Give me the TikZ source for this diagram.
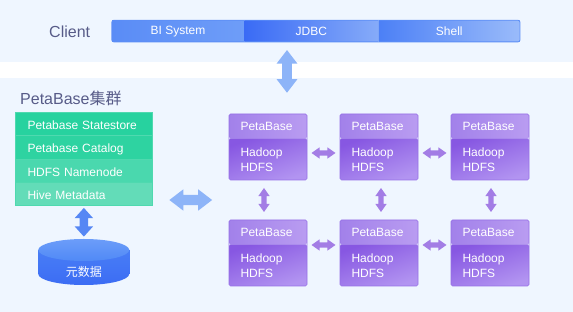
\documentclass[tikz,border=0pt]{standalone}
\usepackage{fontspec}
\setmainfont{Liberation Sans}
\newfontfamily\cjk{Noto Sans CJK SC}
\usepackage{xcolor}
\usepackage{tikz}
\definecolor{panelBlue}{HTML}{EFF6FF}
\definecolor{titleInk}{HTML}{575B88}
\definecolor{barLine}{HTML}{5C8EF6}
\definecolor{biL}{HTML}{5A8CF6}
\definecolor{biR}{HTML}{6E9DF8}
\definecolor{jdbcL}{HTML}{3A6BF5}
\definecolor{jdbcR}{HTML}{86ABF9}
\definecolor{shellL}{HTML}{4C80F6}
\definecolor{shellR}{HTML}{9ABBFA}
\definecolor{flowBlue}{HTML}{8DB4F8}
\definecolor{flowDeep}{HTML}{5687F4}
\definecolor{flowPurple}{HTML}{A37DE5}
\definecolor{stackLine}{HTML}{4FD9AF}
\definecolor{stackA}{HTML}{27D29F}
\definecolor{stackB}{HTML}{2ED3A1}
\definecolor{stackC}{HTML}{4AD8AE}
\definecolor{stackD}{HTML}{63DCB8}
\definecolor{nodeLine}{HTML}{9670E6}
\definecolor{nodeTopL}{HTML}{A281EA}
\definecolor{nodeTopR}{HTML}{B99CF1}
\definecolor{nodeLowT}{HTML}{8757E2}
\definecolor{nodeLowB}{HTML}{B294F1}
\definecolor{dbTop}{HTML}{5089F6}
\definecolor{dbTopLight}{HTML}{6C9DF9}
\definecolor{dbSide}{HTML}{4C83F6}
\definecolor{dbSideDark}{HTML}{3C6CF4}
\usetikzlibrary{positioning,shapes.multipart,shapes.arrows,calc}

% row strut for the component stack (text sits a little low in each row)
\newcommand{\rowstrut}{\rule[-2pt]{0pt}{15pt}}

\begin{document}
\begin{tikzpicture}[
  x=1pt, y=1pt,
  font=\fontsize{12}{15}\selectfont,
  panel/.style={fill=panelBlue, draw=none},
  title/.style={font=\fontsize{16}{19}\selectfont, text=titleInk, anchor=west, inner sep=0pt},
  client/.style={minimum height=21.2pt, inner sep=0pt, text=white},
  stackbox/.style={
    draw=stackLine,
    line width=0.6pt,
    rectangle split,
    rectangle split parts=4,
    rectangle split part fill={stackA,stackB,stackC,stackD},
    text width=113pt,
    inner xsep=12pt,
    inner ysep=3.75pt,
    align=left,
    text=white
  },
  nodebox/.style={
    draw=nodeLine,
    line width=0.6pt,
    rounded corners=1.5pt,
    minimum width=78pt,
    minimum height=66pt,
    text width=55pt,
    inner xsep=11.5pt,
    align=left,
    text=white,
    path picture={
      \shade[left color=nodeTopL, right color=nodeTopR]
        (path picture bounding box.north west) rectangle ([yshift=-24.5pt]path picture bounding box.north east);
      \shade[top color=nodeLowT, bottom color=nodeLowB, shading angle=20]
        ([yshift=-24.5pt]path picture bounding box.north west) rectangle (path picture bounding box.south east);
    }
  },
  dbbox/.style={
    minimum width=91pt,
    minimum height=46pt,
    inner sep=0pt,
    path picture={
      \shade[top color=dbSide, bottom color=dbSideDark]
        ([yshift=-11pt]path picture bounding box.north west) -- ([yshift=11pt]path picture bounding box.south west)
        arc[start angle=180, end angle=360, x radius=45.5pt, y radius=11pt]
        -- ([yshift=-11pt]path picture bounding box.north east) -- cycle;
      \shade[top color=dbTopLight, bottom color=dbTop]
        ([yshift=-11pt]path picture bounding box.north) ellipse [x radius=45.5pt, y radius=11pt];
    }
  },
  % double arrows: the shaft is set by the inner sep across the arrow
  flow/.style={double arrow, draw=none},
  flowwide/.style={flow, fill=flowBlue, minimum height=42.7pt, double arrow head extend=5.5pt, double arrow tip angle=75},
  flowdeep/.style={flow, fill=flowDeep, inner xsep=4pt, inner ysep=0pt, minimum height=28.7pt, double arrow head extend=5pt, double arrow tip angle=84, shape border rotate=90},
  flowpeer/.style={flow, fill=flowPurple, minimum height=24pt, double arrow head extend=3pt, double arrow tip angle=70},
  across/.style={inner xsep=0pt, inner ysep=#1},
  upright/.style={inner xsep=#1, inner ysep=0pt, shape border rotate=90}
]

% Backdrop
\fill[white] (0,0) rectangle (573,312);
\fill[panel] (0,250.3) rectangle (573,312);
\fill[panel] (0,0) rectangle (573,233.7);

% Client layer
\node[title] (clientlbl) at (49,280.7) {Client};
\node[client, minimum width=132pt, left color=biL, right color=biR] (bi) at (178,280.9) {BI System};
\node[client, minimum width=134pt, left color=jdbcL, right color=jdbcR, right=0pt of bi] (jdbc) {JDBC};
\node[client, minimum width=141pt, left color=shellL, right color=shellR, right=0pt of jdbc] (shell) {Shell};
\draw[barLine, line width=0.8pt, rounded corners=2pt] (bi.north west) rectangle (shell.south east);

\node[flowwide, upright=4.75pt] (access) at (287,240.6) {};

% Cluster
\node[title] (clusterlbl) at (20,213.5) {PetaBase{\cjk 集群}};

\node[stackbox] (stack) at (84,153)
{\rowstrut Petabase Statestore
\nodepart{two}\rowstrut Petabase Catalog
\nodepart{three}\rowstrut HDFS Namenode
\nodepart{four}\rowstrut Hive Metadata};

\node[dbbox, label={[font=\cjk\fontsize{12}{14}\selectfont, text=white, yshift=-10pt]center:元数据}] (meta) at (83.75,50) {};

\foreach \col/\x in {1/268,2/379,3/490} {
  \node[nodebox] (pa\col) at (\x,165) {PetaBase\\[11.3pt]Hadoop\\HDFS};
  \node[nodebox] (pb\col) at (\x,59) {PetaBase\\[11.3pt]Hadoop\\HDFS};
}

% Links
\node[flowdeep] (metalink) at ($(stack.south)!0.5!(meta.north)$) {};
\node[flowwide, across=5pt] (clusterlink) at ($(stack.east |- pa1.south)!0.5!(pb1.north west)$) {};

\node[flowpeer, across=2.5pt] (ra12) at ($(pa1.east)!0.5!(pa2.west) + (0,-6)$) {};
\node[flowpeer, across=2.5pt] (ra23) at ($(pa2.east)!0.5!(pa3.west) + (0,-6)$) {};
\node[flowpeer, across=2.5pt] (rb12) at ($(pb1.east)!0.5!(pb2.west) + (0,8)$) {};
\node[flowpeer, across=2.5pt] (rb23) at ($(pb2.east)!0.5!(pb3.west) + (0,8)$) {};
\node[flowpeer, upright=2.5pt] (col1) at ($(pa1.south)!0.5!(pb1.north) + (-4,0)$) {};
\node[flowpeer, upright=2.5pt] (col2) at ($(pa2.south)!0.5!(pb2.north) + (2,0)$) {};
\node[flowpeer, upright=2.5pt] (col3) at ($(pa3.south)!0.5!(pb3.north) + (1,0)$) {};

\end{tikzpicture}
\end{document}
